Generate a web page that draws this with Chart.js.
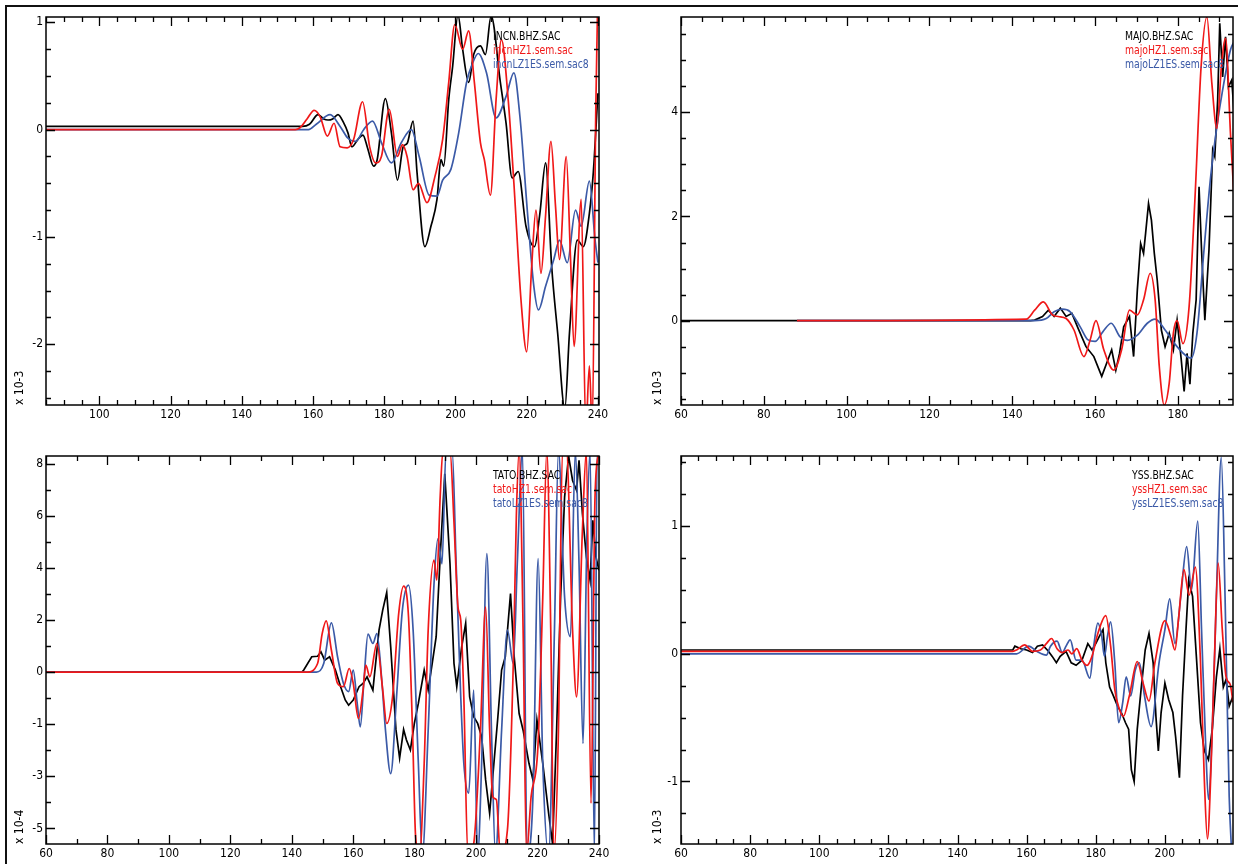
<!DOCTYPE html>
<html lang="en">
<head>
    <meta charset="UTF-8">
    <title>Seismogram comparison</title>
    <script src="https://cdn.jsdelivr.net/npm/chart.js"></script>
    <style>
        body { margin: 0; background: #fff; }
        #page { position: relative; width: 1238px; height: 864px; overflow: hidden; background: #fff; }
        #frame { position: absolute; left: 5px; top: 5px; right: 0; bottom: 0; border-left: 2px solid #111; border-top: 2px solid #111; }
        canvas { position: absolute; }
    </style>
</head>
<body>
<div id="page">
    <div id="frame"></div>
    <canvas id="incn" width="619" height="430" style="left:0;top:0"></canvas>
    <canvas id="majo" width="603" height="430" style="left:635px;top:0"></canvas>
    <canvas id="tato" width="619" height="430" style="left:0;top:439px"></canvas>
    <canvas id="yss" width="603" height="430" style="left:635px;top:439px"></canvas>
</div>

<script>
    // ---- INCN (x 10-3) ----
    const incnObsT = [85, 157, 159, 161.4, 163, 164.2, 165.5, 167, 168.5, 169.8, 170.9, 172.6, 174, 175.3, 177, 178, 180.3, 182, 183.7, 185.3, 186.4, 188.1, 189.2, 191.4, 193.1, 194.8, 195.9, 196.7, 198.1, 199.2, 200.7, 202, 203.7, 205.1, 207, 208.4, 210, 212.6, 214.2, 215.9, 217.6, 219.8, 222.2, 223.7, 225.3, 227, 228.7, 230.7, 232, 234.2, 235.9, 237.6, 238.7, 240];
    const incnObsV = [0.03, 0.03, 0.05, 0.14, 0.1, 0.09, 0.1, 0.14, 0.07, -0.03, -0.16, -0.09, -0.05, -0.17, -0.34, -0.28, 0.29, -0.03, -0.47, -0.16, -0.13, 0.08, -0.4, -1.09, -0.9, -0.65, -0.28, -0.34, 0.28, 0.59, 1.07, 0.75, 0.44, 0.7, 0.78, 0.7, 1.06, 0.44, 0.06, -0.45, -0.39, -0.9, -1.09, -0.78, -0.31, -1.27, -1.9, -2.6, -1.9, -1.03, -1.09, -0.78, -0.4, 0.34];
    const incnSemT = [85, 155, 156.4, 158.3, 160.3, 162, 164, 165.9, 167.6, 169.6, 171.4, 173.9, 175.9, 177.6, 179.2, 181.4, 183.7, 185.1, 186.4, 188.1, 189.6, 192, 194.2, 196.4, 198.1, 199.8, 202, 203.7, 205.3, 207, 208.1, 209.8, 211.4, 212.9, 214.8, 216.4, 218.4, 220, 221.4, 222.6, 224, 225.3, 226.8, 228.1, 229.2, 231.1, 232.3, 233.3, 235.3, 236.6, 237.6, 238.4, 239.4, 240];
    const incnSemV = [0, 0, 0.02, 0.1, 0.18, 0.12, -0.06, 0.06, -0.16, -0.17, -0.09, 0.26, -0.16, -0.31, -0.25, 0.19, -0.25, -0.14, -0.25, -0.56, -0.5, -0.68, -0.44, -0.09, 0.44, 0.98, 0.75, 0.92, 0.44, -0.12, -0.28, -0.61, 0.28, 0.84, 0.28, -0.5, -1.59, -2.07, -1.27, -0.75, -1.34, -0.8, -0.11, -0.72, -1.21, -0.25, -1.2, -2.02, -0.65, -2.8, -2.2, -2.8, 0.2, 1.3];
    const incnLzT = [85, 157, 158.7, 160.9, 164.8, 167.6, 169.8, 172, 174.2, 176.7, 179.2, 182, 184.8, 187.6, 189.8, 192.6, 194.8, 196.4, 198.7, 200.9, 203.1, 204.8, 206.4, 208.7, 211.4, 214.2, 216.4, 218.1, 220.3, 222, 223.3, 225.3, 227.6, 229.2, 231.4, 233.7, 235.3, 237.6, 239.2, 240];
    const incnLzV = [0, 0, 0, 0.05, 0.14, 0.03, -0.08, -0.11, 0, 0.08, -0.12, -0.31, -0.12, 0, -0.25, -0.61, -0.62, -0.47, -0.37, -0.03, 0.44, 0.62, 0.71, 0.53, 0.11, 0.31, 0.53, 0.12, -0.81, -1.46, -1.68, -1.46, -1.21, -1.03, -1.24, -0.75, -0.9, -0.48, -1.03, -1.24];
    const incnXTicks = [100, 120, 140, 160, 180, 200, 220, 240];
    const incnYTicks = [-2, -1, 0, 1];
    const incnYLabels = ['-2', '-1', '0', '1'];

    // ---- MAJO (x 10-3) ----
    const majoObsT = [60, 144.4, 145.4, 147.3, 148.7, 150.1, 151.6, 153, 154.4, 155.9, 157.8, 159.7, 161.6, 163.1, 164, 165, 165.9, 166.9, 168.3, 169.3, 170.2, 171, 171.7, 172.2, 172.9, 173.6, 174.3, 175, 176, 176.9, 177.9, 178.9, 179.8, 180.8, 181.5, 182.2, 182.9, 183.6, 184.4, 185.1, 185.7, 186.5, 187.5, 188.4, 188.9, 189.6, 190.1, 190.8, 191.5, 192.2, 193, 193.8];
    const majoObsV = [0, 0, 0.01, 0.08, 0.2, 0.08, 0.24, 0.08, 0.14, -0.15, -0.5, -0.69, -1.07, -0.75, -0.56, -0.95, -0.63, -0.12, 0.08, -0.69, 0.59, 1.48, 1.29, 1.68, 2.25, 1.93, 1.29, 0.78, -0.18, -0.5, -0.24, -0.56, 0.01, -0.75, -1.36, -0.63, -1.22, -0.24, 0.4, 2.57, 1.36, 0.01, 1.36, 3.28, 3.15, 4.24, 5.71, 4.68, 5.45, 4.49, 4.62, 3.72];
    const majoSemT = [88, 143.4, 145.4, 147.5, 149.7, 151.1, 153, 154.9, 157.3, 158.8, 160.2, 162.1, 164.5, 166.4, 168.3, 170.2, 171.7, 173.3, 174.5, 175.5, 176.7, 177.9, 178.9, 179.8, 181.2, 182.7, 184.1, 185.6, 187, 188.2, 189.4, 190.5, 191.5, 192.7, 193.8];
    const majoSemV = [0, 0.03, 0.2, 0.36, 0.11, 0.08, 0.04, -0.18, -0.69, -0.37, 0, -0.56, -0.95, -0.56, 0.2, 0.11, 0.4, 0.91, 0.4, -0.88, -1.62, -1.2, -0.24, 0, -0.44, 0.27, 2.32, 4.88, 5.83, 4.55, 3.69, 4.88, 5.42, 3.58, 2];
    const majoLzT = [88, 145.4, 148.2, 150.1, 152.1, 154, 156.4, 158.3, 160, 161.9, 163.9, 166, 167.8, 170.2, 172.6, 174.5, 176.9, 179.8, 183.2, 184.6, 186.3, 187.9, 189.4, 190.8, 192.7, 193.8];
    const majoLzV = [0, 0, 0.04, 0.17, 0.22, 0.17, -0.12, -0.37, -0.4, -0.21, -0.05, -0.31, -0.38, -0.28, -0.05, 0.03, -0.18, -0.5, -0.72, -0.24, 1.36, 2.76, 3.72, 4.43, 5.2, 5.39];
    const majoXTicks = [60, 80, 100, 120, 140, 160, 180];
    const majoYTicks = [0, 2, 4];
    const majoYLabels = ['0', '2', '4'];

    // ---- TATO (x 10-4) ----
    const tatoObsT = [60, 143.3, 143.9, 146.5, 148.4, 149.5, 150.7, 152.3, 154.2, 155.9, 157.4, 158.5, 160, 161.9, 163.2, 164.5, 166.4, 168.4, 169.6, 170.9, 172.2, 173.9, 175.1, 176.4, 177.3, 178.6, 179.9, 181.2, 183.1, 184.4, 185.7, 187, 188.3, 189.8, 191.5, 192.8, 193.7, 195.3, 196.6, 197.9, 199.2, 200.5, 201.8, 203.1, 204.4, 205.7, 207, 208.3, 209.5, 211.2, 212.4, 214, 215.3, 217.2, 218.5, 219.8, 221.7, 223.6, 224.9, 226.2, 227.5, 228.8, 230.1, 231.4, 232.7, 233.5, 234.6, 235.9, 237.1, 238, 239, 240];
    const tatoObsV = [0, 0, 0.08, 0.59, 0.61, 0.78, 0.46, 0.59, 0.08, -0.56, -1.07, -1.27, -1.07, -0.56, -0.43, -0.18, -0.69, 1.61, 2.38, 3.06, 0.97, -2.2, -3.3, -2.2, -2.6, -2.99, -1.97, -1.2, 0.08, -0.69, 0.33, 1.36, 4.42, 7.62, 4.16, 0.33, -0.56, 0.97, 1.87, -0.95, -1.71, -1.97, -2.48, -4.14, -5.42, -3.63, -1.84, 0.08, 0.59, 3.02, 0.59, -1.59, -2.23, -3.5, -4.14, -1.84, -3.5, -5.42, -6.6, -2.23, 2.88, 6.72, 8.3, 7.36, 6.98, 8.13, 6.09, 4.42, 3.53, 5.83, 4.42, 3.91];
    const tatoSemT = [60, 145, 148.4, 149.9, 151.2, 152.9, 154.9, 156.8, 158.7, 160, 161.7, 163.2, 164.1, 165.4, 167.7, 169.6, 170.9, 172.8, 174.8, 176.4, 178, 179.3, 180.3, 181.6, 183.1, 184.4, 186.3, 187.2, 188.3, 189.2, 191.5, 192.8, 194.1, 195, 196, 197.3, 199.2, 201.4, 203.1, 204.4, 205.4, 206.6, 207.9, 210.2, 212.1, 213.1, 214, 215.3, 216.4, 217.9, 220.1, 221.7, 223, 224.3, 225.3, 226.8, 228.1, 229.4, 231.4, 232.7, 234.6, 235.9, 237.4, 238.7, 240];
    const tatoSemV = [0, 0, 0.33, 1.48, 1.97, 0.84, -0.43, -0.56, 0.14, -0.43, -1.78, -0.69, 0.27, -0.18, 1.1, -0.69, -1.97, -0.95, 2.25, 3.3, 2.12, -2.23, -6.3, -7, -3.5, 1.61, 4.3, 3.53, 6.72, 8.5, 8.5, 5.75, 2.5, 1.99, -0.95, -7, -6.6, -2.23, 2.5, -2.23, -4.78, -4.9, -7, -6.05, 0.33, 6, 8.5, 1.61, -7, -4.78, -2.9, 2.88, 8.5, 1.61, -7, -2.23, 8.5, 8.5, 1.61, -0.95, 5.45, 8.5, -5.04, 6.72, 8.5];
    const tatoLzT = [60, 148, 150.4, 152.9, 154.9, 156.8, 158.5, 160, 161.3, 162.3, 163.5, 164.8, 166.4, 167.7, 169.3, 170.5, 172.2, 174.1, 176, 178, 179.5, 181.2, 182.5, 184.4, 186.3, 187.6, 188.9, 190.2, 192.2, 193.5, 195, 196, 197.6, 199.2, 200.5, 201.8, 203.5, 205, 206.3, 208.3, 210.2, 212.1, 213.4, 215.1, 216.6, 218.5, 220.2, 221.7, 223.6, 225.5, 226.8, 228.8, 230.7, 232.3, 233.5, 234.8, 236.1, 237.1, 238.5, 239.4, 240];
    const tatoLzV = [0, 0, 0.33, 1.89, 0.59, -0.43, -0.75, 0.08, -1.2, -2.1, -0.31, 1.46, 1.1, 1.48, -0.31, -2.23, -3.9, -0.95, 2.38, 3.34, 1.61, -3.5, -7, -2.23, 3.4, 5.13, 4.16, 8.5, 8.5, 4.16, -0.95, -3.5, -4.65, -0.69, -7, -3.5, 4.55, -2.23, -7, -2.23, 1.61, 0.33, 4.16, 8.5, -7, -4.78, 4.36, -3.5, -7, 1.61, 8.5, 2.88, 1.36, 8.5, 4.16, -2.74, 5.45, 8.5, -7, 8.5, 8.5];
    const tatoXTicks = [60, 80, 100, 120, 140, 160, 180, 200, 220, 240];
    const tatoYTicks = [-6, -4, -2, 0, 2, 4, 6, 8];
    const tatoYLabels = ['-5', '-3', '-1', '0', '2', '4', '6', '8'];

    // ---- YSS (x 10-3) ----
    const yssObsT = [60, 156, 156.6, 158.3, 160, 161.7, 163.1, 164.6, 166.3, 167.4, 168.6, 169.7, 171.4, 172.9, 174.3, 176, 177.7, 178.9, 180, 181.1, 182.1, 182.9, 184, 185.1, 186.3, 187.4, 188.6, 189.5, 190.3, 191.1, 192, 193.1, 194.3, 195.4, 196.6, 197.4, 198.1, 198.9, 200, 201.1, 202.3, 203.1, 204.2, 205.1, 206.1, 206.9, 208, 209.1, 210.3, 211.4, 212.6, 213.7, 214.9, 215.9, 216.9, 217.7, 218.6, 219.7];
    const yssObsV = [0.03, 0.03, 0.06, 0.04, 0.03, 0.01, 0.06, 0.07, 0.02, -0.02, -0.07, -0.02, 0.02, -0.07, -0.09, -0.05, 0.08, 0.03, 0.08, 0.14, 0.19, -0.07, -0.26, -0.33, -0.41, -0.46, -0.54, -0.59, -0.91, -1, -0.59, -0.28, 0.03, 0.16, -0.07, -0.49, -0.76, -0.46, -0.23, -0.36, -0.46, -0.65, -0.97, -0.33, 0.19, 0.58, 0.45, -0.02, -0.54, -0.76, -0.83, -0.59, -0.18, 0.04, -0.26, -0.2, -0.41, -0.33];
    const yssSemT = [60, 156, 157.1, 159.4, 161.7, 164, 165.7, 167.2, 168.8, 170.3, 172, 173.1, 174.5, 176, 177.5, 178.9, 180.6, 182.9, 184.3, 185.5, 186.9, 188, 189.7, 192, 193.7, 195.4, 197.1, 200, 201.7, 202.9, 204, 205.5, 207, 208.8, 210.3, 211.4, 212.3, 213.4, 214.3, 215.4, 216.6, 217.7, 218.9, 219.7];
    const yssSemV = [0.02, 0.02, 0.03, 0.07, 0.02, 0.03, 0.08, 0.12, 0.04, 0.01, 0.03, 0, 0.04, -0.05, -0.09, -0.02, 0.16, 0.3, 0.06, -0.28, -0.44, -0.49, -0.33, -0.06, -0.23, -0.37, -0.07, 0.26, 0.14, 0.03, 0.29, 0.66, 0.46, 0.68, -0.07, -0.98, -1.45, -0.85, -0.07, 0.71, 0.19, -0.18, -0.24, -0.38];
    const yssLzT = [60, 157.1, 160.6, 162.9, 165.7, 166.9, 168.8, 170.3, 171.4, 172.6, 174.3, 176, 178.3, 179.4, 180.6, 181.7, 182.5, 183.4, 184.3, 185.5, 186.6, 187.8, 188.8, 190.1, 191.4, 192.6, 194.1, 196, 198.3, 200, 201.4, 202.9, 204.6, 206.3, 207.7, 209.5, 210.6, 211.8, 212.6, 213.7, 214.9, 216.3, 217.4, 218.6, 219.4];
    const yssLzV = [0, 0, 0.06, 0.02, -0.01, 0.06, 0.1, 0.01, 0.06, 0.11, -0.05, -0.05, -0.19, 0.06, 0.24, 0.14, -0.02, 0.14, 0.25, -0.07, -0.54, -0.38, -0.18, -0.33, -0.13, -0.07, -0.33, -0.57, -0.07, 0.19, 0.43, 0.08, 0.45, 0.84, 0.5, 1.04, 0.19, -0.72, -1.14, -0.59, 0.45, 1.54, 0.45, -1.12, -1.6];
    const yssXTicks = [60, 80, 100, 120, 140, 160, 180, 200];
    const yssYTicks = [-1, 0, 1];
    const yssYLabels = ['-1', '0', '1'];

    const BLACK = '#000000';
    const RED = '#f01818';
    const BLUE = '#3b5aa7';
    const FONT = '"Liberation Sans Narrow", "DejaVu Sans Condensed", Roboto, sans-serif';
    Chart.defaults.font.family = FONT;
    Chart.defaults.color = '#000';

    function isMajor(v, majors, step) {
        return majors.some(m => Math.abs(m - v) < step / 10);
    }

    // frame, inward ticks on all 4 sides, and the text legend in the top right corner
    const panelDecor = {
        id: 'panelDecor',
        afterDatasetsDraw(chart, args, o) {
            const { ctx, chartArea: a, scales: { x, y } } = chart;
            ctx.save();
            ctx.strokeStyle = '#000';
            ctx.lineWidth = 1.3;
            ctx.beginPath();
            for (let k = Math.ceil(x.min / o.xMinor - 1e-6); k * o.xMinor <= x.max + 1e-6; k++) {
                const v = k * o.xMinor;
                const px = Math.round(x.getPixelForValue(v)) + 0.5;
                const len = isMajor(v, o.xMajor, o.xMinor) ? 9 : 5;
                ctx.moveTo(px, a.bottom); ctx.lineTo(px, a.bottom - len);
                ctx.moveTo(px, a.top); ctx.lineTo(px, a.top + len);
            }
            for (let k = Math.ceil(y.min / o.yMinor - 1e-6); k * o.yMinor <= y.max + 1e-6; k++) {
                const v = k * o.yMinor;
                const py = Math.round(y.getPixelForValue(v)) + 0.5;
                const len = isMajor(v, o.yMajor, o.yMinor) ? 9 : 5;
                ctx.moveTo(a.left, py); ctx.lineTo(a.left + len, py);
                ctx.moveTo(a.right, py); ctx.lineTo(a.right - len, py);
            }
            ctx.stroke();
            ctx.lineWidth = 1.5;
            ctx.strokeRect(a.left, a.top, a.right - a.left, a.bottom - a.top);

            // legend text, squeezed a little like the plotting font of the original
            ctx.font = '12px ' + FONT;
            ctx.textAlign = 'left';
            ctx.textBaseline = 'middle';
            chart.data.datasets.forEach((ds, i) => {
                ctx.save();
                ctx.translate(a.right - o.legendRight, a.top + 19.5 + i * 14.3);
                ctx.scale(0.86, 1);
                ctx.fillStyle = ds.borderColor;
                ctx.fillText(ds.label, 0, 0);
                ctx.restore();
            });
            ctx.restore();
        }
    };

    function series(label, t, v, color, smooth, order) {
        return {
            label: label,
            data: t.map((x, i) => ({ x: x, y: v[i] })),
            borderColor: color,
            borderWidth: 1.7,
            pointRadius: 0,
            cubicInterpolationMode: smooth ? 'monotone' : 'default',
            tension: 0,
            clip: 0,
            order: order
        };
    }

    function makePanel(id, p) {
        new Chart(document.getElementById(id), {
            type: 'line',
            data: { datasets: p.datasets },
            options: {
                responsive: false,
                animation: false,
                devicePixelRatio: 1,
                layout: { padding: { left: 0, top: 17, right: p.padRight, bottom: 0 } },
                plugins: {
                    legend: { display: false },
                    tooltip: { enabled: false },
                    panelDecor: {
                        xMinor: p.xMinor, yMinor: p.yMinor,
                        xMajor: p.xTicks, yMajor: p.yTicks,
                        legendRight: p.legendRight
                    }
                },
                scales: {
                    x: {
                        type: 'linear',
                        min: p.xMin, max: p.xMax,
                        grid: { display: false, drawTicks: false },
                        border: { display: false },
                        afterBuildTicks: s => { s.ticks = p.xTicks.map(v => ({ value: v })); },
                        afterFit: s => { s.height = 25; },
                        ticks: { autoSkip: false, maxRotation: 0, padding: 3, font: { size: 12 }, color: '#000' }
                    },
                    y: {
                        type: 'linear',
                        min: p.yMin, max: p.yMax,
                        grid: { display: false, drawTicks: false },
                        border: { display: false },
                        afterBuildTicks: s => { s.ticks = p.yTicks.map(v => ({ value: v })); },
                        afterFit: s => { s.width = 46; },
                        ticks: {
                            autoSkip: false, padding: 3, font: { size: 12 }, color: '#000',
                            callback: (val, i) => p.yLabels[i]
                        },
                        title: {
                            display: true, text: p.yTitle, align: 'start', color: '#000',
                            font: { size: 12 }, padding: { top: p.titlePad, bottom: 0 }
                        }
                    }
                }
            },
            plugins: [panelDecor]
        });
    }

    // draw order: black underneath, blue next, red on top
    makePanel('incn', {
        datasets: [
            series('INCN.BHZ.SAC', incnObsT, incnObsV, BLACK, true, 3),
            series('incnHZ1.sem.sac', incnSemT, incnSemV, RED, true, 1),
            series('incnLZ1ES.sem.sac8', incnLzT, incnLzV, BLUE, true, 2)
        ],
        xMin: 85, xMax: 240.3, yMin: -2.566, yMax: 1.05,
        xTicks: incnXTicks, yTicks: incnYTicks, yLabels: incnYLabels,
        xMinor: 5, yMinor: 0.25, yTitle: 'x 10-3', titlePad: 13, padRight: 20, legendRight: 106
    });

    makePanel('majo', {
        datasets: [
            series('MAJO.BHZ.SAC', majoObsT, majoObsV, BLACK, false, 3),
            series('majoHZ1.sem.sac', majoSemT, majoSemV, RED, true, 1),
            series('majoLZ1ES.sem.sac8', majoLzT, majoLzV, BLUE, true, 2)
        ],
        xMin: 60, xMax: 193.3, yMin: -1.62, yMax: 5.83,
        xTicks: majoXTicks, yTicks: majoYTicks, yLabels: majoYLabels,
        xMinor: 5, yMinor: 0.5, yTitle: 'x 10-3', titlePad: 16, padRight: 5, legendRight: 108
    });

    makePanel('tato', {
        datasets: [
            series('TATO.BHZ.SAC', tatoObsT, tatoObsV, BLACK, false, 3),
            series('tatoHZ1.sem.sac', tatoSemT, tatoSemV, RED, true, 1),
            series('tatoLZ1ES.sem.sac8', tatoLzT, tatoLzV, BLUE, true, 2)
        ],
        xMin: 60, xMax: 240, yMin: -6.6, yMax: 8.3,
        xTicks: tatoXTicks, yTicks: tatoYTicks, yLabels: tatoYLabels,
        xMinor: 10, yMinor: 1, yTitle: 'x 10-4', titlePad: 13, padRight: 20, legendRight: 106
    });

    makePanel('yss', {
        datasets: [
            series('YSS.BHZ.SAC', yssObsT, yssObsV, BLACK, false, 3),
            series('yssHZ1.sem.sac', yssSemT, yssSemV, RED, true, 1),
            series('yssLZ1ES.sem.sac8', yssLzT, yssLzV, BLUE, true, 2)
        ],
        xMin: 60, xMax: 219.7, yMin: -1.49, yMax: 1.55,
        xTicks: yssXTicks, yTicks: yssYTicks, yLabels: yssYLabels,
        xMinor: 5, yMinor: 0.25, yTitle: 'x 10-3', titlePad: 16, padRight: 5, legendRight: 101
    });
</script>
</body>
</html>
